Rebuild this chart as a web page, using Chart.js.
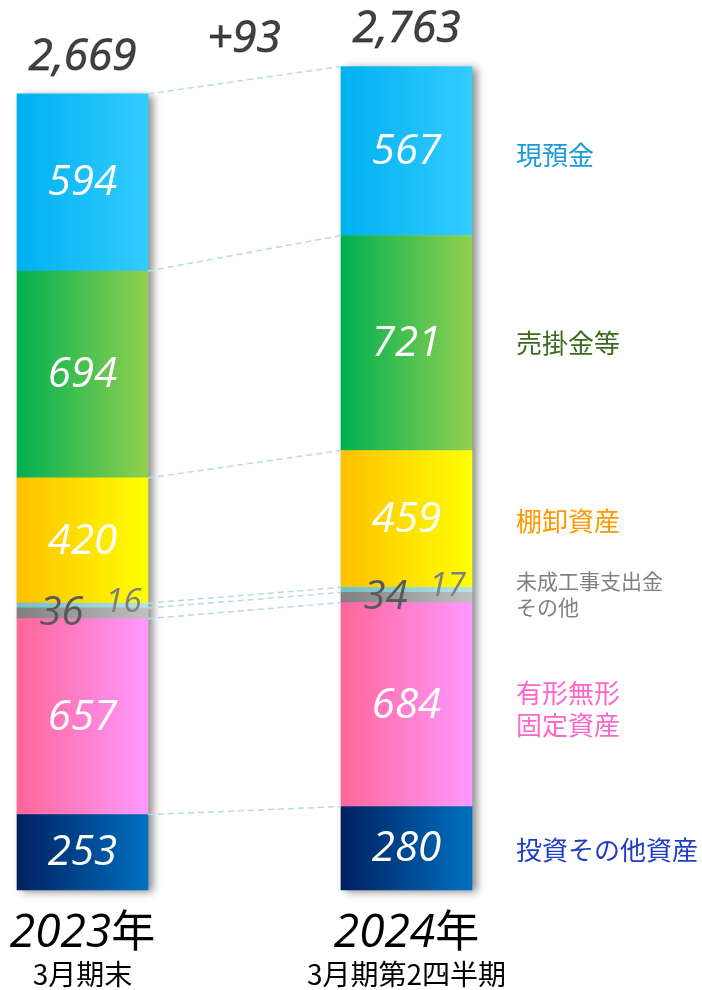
<!DOCTYPE html>
<html lang="ja">
<head>
<meta charset="UTF-8" />
<script src="https://cdn.jsdelivr.net/npm/chart.js@4.4.1/dist/chart.umd.min.js"></script>
<title>資産の内訳</title>
<style>
  html, body { margin: 0; padding: 0; background: #fff; }
  .canvas-container { position: relative; width: 702px; height: 990px; }
</style>
</head>
<body>
<div class="canvas-container">
  <canvas id="myChart" width="702" height="990"></canvas>
</div>
<script>
// values in 億円 (bottom of stack first)
const years = ["2023", "2024"];
const periods = ["3月期末", "3月期第2四半期"];
const investments = [253, 280];
const fixedAssets = [657, 684];
const others = [36, 34];
const wip = [16, 17];
const inventory = [420, 459];
const receivables = [694, 721];
const cash = [594, 567];
const totals = [2669, 2763];
const change = "+93";

const FONT = '"Open Sans", "Noto Sans CJK JP", sans-serif';
const CJK = '"Noto Sans CJK JP", sans-serif';
const BAR_W = 131;

function grad(c1, c2) {
  return (ctx) => {
    const chart = ctx.chart;
    if (!chart.chartArea || ctx.dataIndex === undefined) return c1;
    const x = chart.scales.x.getPixelForValue(ctx.dataIndex);
    const g = chart.ctx.createLinearGradient(x - BAR_W / 2, 0, x + BAR_W / 2, 0);
    g.addColorStop(0, c1);
    g.addColorStop(1, c2);
    return g;
  };
}

function seg(name, data, c1, c2, label, side) {
  return {
    label: name, data: data, clip: false,
    backgroundColor: grad(c1, c2),
    valueStyle: label, side: side
  };
}

const white = { color: "#fff", size: 42, dx: 0, dy: 1 };

const datasets = [
  seg("投資その他資産", investments, "#002060", "#0070c0", white,
      { text: ["投資その他資産"], color: "#1f3dc4", dy: 2 }),
  seg("有形無形固定資産", fixedAssets, "#ff6699", "#ff99ff", white,
      { text: ["有形無形", "固定資産"], color: "#ff66cc", dy: 5 }),
  seg("その他", others, "#7f7f7f", "#c0c0c0",
      { color: "#595959", size: 40, dx: -21, dy: 0 },
      { text: ["その他"], color: "#808080", dy: 10, size: 21 }),
  seg("未成工事支出金", wip, "#6fbfc8", "#b8e2e6",
      { color: "#7f7f7f", size: 33, dx: 41, dy: -3 },
      { text: ["未成工事支出金"], color: "#808080", dy: -9, size: 21 }),
  seg("棚卸資産", inventory, "#ffc000", "#ffff00", white,
      { text: ["棚卸資産"], color: "#ff9900", dy: 2 }),
  seg("売掛金等", receivables, "#00b050", "#92d050", white,
      { text: ["売掛金等"], color: "#3b6a1e", dy: 0 }),
  seg("現預金", cash, "#00b0f0", "#33ccff", white,
      { text: ["現預金"], color: "#1a9ad6", dy: 4 })
];

const decor = {
  id: "decor",
  beforeDatasetsDraw(chart) {
    const c = chart.ctx;
    const n = chart.data.datasets.length;
    const bottom = chart.getDatasetMeta(0).data;
    const top = chart.getDatasetMeta(n - 1).data;
    c.save();
    c.shadowColor = "rgba(0,0,0,0.45)";
    c.shadowBlur = 8;
    c.shadowOffsetX = 5;
    c.shadowOffsetY = 2;
    c.fillStyle = "#fff";
    bottom.forEach((b, j) => {
      const t = top[j];
      c.fillRect(b.x - BAR_W / 2, t.y, BAR_W, b.base - t.y);
    });
    c.restore();
  },
  afterDatasetsDraw(chart) {
    const c = chart.ctx;
    const ds = chart.data.datasets;
    const n = ds.length;
    c.save();

    // dashed connectors between segment tops
    c.strokeStyle = "#b2dde2";
    c.lineWidth = 1.5;
    c.setLineDash([6, 4]);
    for (let i = 0; i < n; i++) {
      const m = chart.getDatasetMeta(i).data;
      c.beginPath();
      c.moveTo(m[0].x + BAR_W / 2, m[0].y);
      c.lineTo(m[1].x - BAR_W / 2, m[1].y);
      c.stroke();
    }
    c.setLineDash([]);

    // values inside segments
    c.textAlign = "center";
    c.textBaseline = "middle";
    ds.forEach((d, i) => {
      const st = d.valueStyle;
      chart.getDatasetMeta(i).data.forEach((el, j) => {
        c.font = "italic " + st.size + "px " + FONT;
        c.fillStyle = st.color;
        c.fillText(d.data[j], el.x + st.dx, (el.y + el.base) / 2 + st.dy);
      });
    });

    // totals and change
    const topEls = chart.getDatasetMeta(n - 1).data;
    c.textBaseline = "alphabetic";
    c.font = "italic 44px " + FONT;
    c.fillStyle = "#444";
    c.strokeStyle = "rgba(0,0,0,0.55)";
    c.lineWidth = 1;
    topEls.forEach((el, j) => {
      const s = totals[j].toLocaleString("en-US");
      c.fillText(s, el.x, el.y - 24);
      c.strokeText(s, el.x, el.y - 24);
    });
    c.fillText(change, 244, 52);
    c.strokeText(change, 244, 52);

    // category labels under bars
    topEls.forEach((el, j) => {
      c.font = "italic 46px " + FONT;
      const wy = c.measureText(years[j]).width;
      c.font = "44px " + CJK;
      const wk = c.measureText("年").width;
      const left = el.x - (wy + wk) / 2;
      c.textAlign = "left";
      c.fillStyle = "#000";
      c.font = "italic 46px " + FONT;
      c.fillText(years[j], left, 947);
      c.font = "44px " + CJK;
      c.fillText("年", left + wy, 947);
      c.textAlign = "center";
      c.font = "28px " + CJK;
      c.fillText(periods[j], el.x, 985, j === 0 ? 104 : 212);
    });

    // segment names on the right, next to the second bar
    c.textAlign = "left";
    c.textBaseline = "middle";
    ds.forEach((d, i) => {
      const el = chart.getDatasetMeta(i).data[1];
      const side = d.side;
      const cy = (el.y + el.base) / 2 + side.dy;
      const lh = 32;
      c.font = (side.size || 26) + "px " + CJK;
      c.fillStyle = side.color;
      side.text.forEach((t, k) => {
        c.fillText(t, 516, cy + (k - (side.text.length - 1) / 2) * lh);
      });
    });
    c.restore();
  }
};

const ctx = document.getElementById("myChart").getContext("2d");
const myChart = new Chart(ctx, {
  type: "bar",
  data: { labels: years, datasets: datasets },
  options: {
    responsive: false,
    animation: false,
    layout: { padding: { left: 82.5, right: 295.5, top: 0, bottom: 100 } },
    datasets: { bar: { barThickness: BAR_W, borderWidth: 0 } },
    scales: {
      x: { stacked: true, offset: false, display: false },
      y: { stacked: true, display: false, min: 0, max: 2985 }
    },
    plugins: { legend: { display: false }, tooltip: { enabled: false } }
  },
  plugins: [decor]
});
</script>
</body>
</html>
